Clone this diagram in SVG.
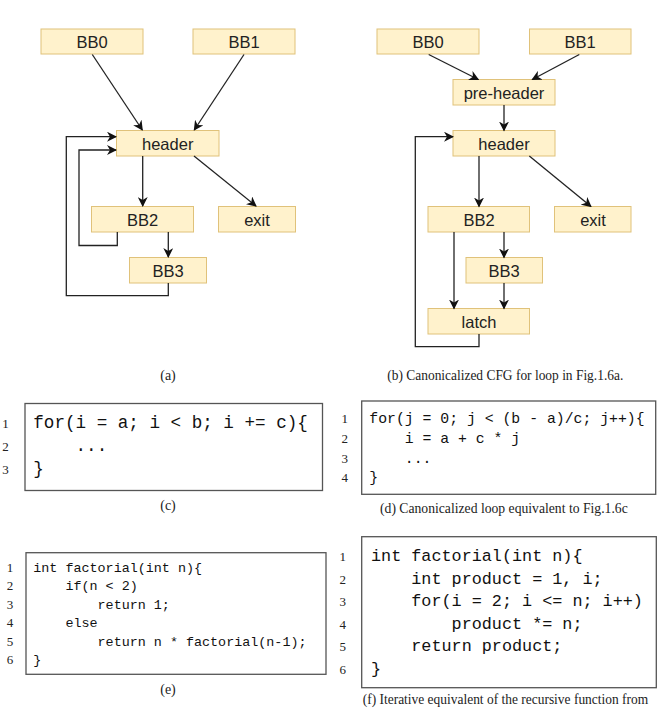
<svg xmlns="http://www.w3.org/2000/svg" width="657" height="711" viewBox="0 0 657 711">
<style>
.nd rect{fill:#fff2cc;stroke:#e0c27a;stroke-width:1}
.nd text{font-family:"Liberation Sans",Arial,sans-serif;font-size:16.5px;fill:#222;text-anchor:middle}
.cn path{fill:none;stroke:#222;stroke-width:1.3}
.box{fill:#fff;stroke:#555;stroke-width:1.3}
.code{font-family:"Liberation Mono","Courier New",monospace;fill:#111;white-space:pre}
.ln{font-family:"Liberation Serif","Times New Roman",serif;font-size:13px;fill:#222;text-anchor:middle}
.cap{font-family:"Liberation Serif","Times New Roman",serif;font-size:14px;fill:#222}
</style>
<defs>
<marker id="ar" viewBox="0 0 10 10" refX="9" refY="5" markerWidth="10" markerHeight="10" markerUnits="userSpaceOnUse" orient="auto">
<path d="M0,0 L10,5 L0,10 L3,5 z" fill="#111"/>
</marker>
</defs>
<rect width="657" height="711" fill="#fff"/>

<!-- Panel (a) -->
<g id="a-BB0" class="nd"><rect x="41" y="29" width="102" height="25"/><text x="92" y="47.5">BB0</text></g>
<g id="a-BB1" class="nd"><rect x="193" y="29" width="102" height="25"/><text x="244" y="47.5">BB1</text></g>
<g id="a-header" class="nd"><rect x="116.5" y="130.5" width="102.5" height="25.5"/><text x="167.7" y="149.5">header</text></g>
<g id="a-BB2" class="nd"><rect x="91.5" y="206.5" width="102" height="25.5"/><text x="142.5" y="225.5">BB2</text></g>
<g id="a-exit" class="nd"><rect x="218.5" y="206.5" width="77" height="25.5"/><text x="257" y="225.5">exit</text></g>
<g id="a-BB3" class="nd"><rect x="129.5" y="257.5" width="77" height="25.5"/><text x="168" y="276.5">BB3</text></g>
<g id="a-edges" class="cn">
<path d="M92.3,54.5 L142.3,130" marker-end="url(#ar)"/>
<path d="M244,54.5 L194.3,130" marker-end="url(#ar)"/>
<path d="M142.7,156 L142.7,206" marker-end="url(#ar)"/>
<path d="M194,156 L256,206" marker-end="url(#ar)"/>
<path d="M168.3,232 L168.3,257" marker-end="url(#ar)"/>
<path d="M117.3,232 L117.3,245.5 L79,245.5 L79,150 L116,150" marker-end="url(#ar)"/>
<path d="M168.3,283 L168.3,295.7 L66.3,295.7 L66.3,136.7 L116,136.7" marker-end="url(#ar)"/>
</g>

<!-- Panel (b) -->
<g id="b-BB0" class="nd"><rect x="377" y="29" width="102" height="25"/><text x="428" y="47.5">BB0</text></g>
<g id="b-BB1" class="nd"><rect x="529.5" y="29" width="101.5" height="25"/><text x="580" y="47.5">BB1</text></g>
<g id="b-preheader" class="nd"><rect x="453" y="79.5" width="102" height="25.5"/><text x="504" y="98.5">pre-header</text></g>
<g id="b-header" class="nd"><rect x="453" y="130.5" width="102" height="25.5"/><text x="504" y="149.5">header</text></g>
<g id="b-BB2" class="nd"><rect x="428" y="206.5" width="101.5" height="25.5"/><text x="479" y="225.5">BB2</text></g>
<g id="b-exit" class="nd"><rect x="554.5" y="206.5" width="76.5" height="25.5"/><text x="593" y="225.5">exit</text></g>
<g id="b-BB3" class="nd"><rect x="466" y="257.5" width="76.5" height="25.5"/><text x="504" y="276.5">BB3</text></g>
<g id="b-latch" class="nd"><rect x="428" y="308.5" width="101.5" height="25.5"/><text x="479" y="327.5">latch</text></g>
<g id="b-edges" class="cn">
<path d="M428.7,54.5 L478.3,79.5" marker-end="url(#ar)"/>
<path d="M579.3,54.5 L532.3,79.5" marker-end="url(#ar)"/>
<path d="M504,105 L504,130.5" marker-end="url(#ar)"/>
<path d="M479,156 L479,206.5" marker-end="url(#ar)"/>
<path d="M529.3,156 L591,206.5" marker-end="url(#ar)"/>
<path d="M504,232 L504,257.5" marker-end="url(#ar)"/>
<path d="M454,232 L454,308.5" marker-end="url(#ar)"/>
<path d="M504,283 L504,308.5" marker-end="url(#ar)"/>
<path d="M479,334 L479,346.7 L415.3,346.7 L415.3,136.7 L453,136.7" marker-end="url(#ar)"/>
</g>

<text class="cap" x="168" y="379.5" text-anchor="middle">(a)</text>
<text class="cap" x="387.3" y="379.5" textLength="236" lengthAdjust="spacingAndGlyphs">(b) Canonicalized CFG for loop in Fig.1.6a.</text>

<!-- (c) -->
<g id="code-c">
<rect class="box" x="25" y="403.5" width="297.5" height="87"/>
<text class="code" font-size="17.6" x="33.3" y="428">for(i = a; i &lt; b; i += c){</text>
<text class="code" font-size="17.6" x="33.3" y="451">    ...</text>
<text class="code" font-size="17.6" x="33.3" y="474">}</text>
<text class="ln" x="5.5" y="428">1</text>
<text class="ln" x="5.5" y="451">2</text>
<text class="ln" x="5.5" y="474">3</text>
</g>
<text class="cap" x="168" y="509.5" text-anchor="middle">(c)</text>

<!-- (d) -->
<g id="code-d">
<rect class="box" x="361.7" y="401" width="294" height="93.3"/>
<text class="code" font-size="14.8" x="369.3" y="423">for(j = 0; j &lt; (b - a)/c; j++){</text>
<text class="code" font-size="14.8" x="369.3" y="443">    i = a + c * j</text>
<text class="code" font-size="14.8" x="369.3" y="462.5">    ...</text>
<text class="code" font-size="14.8" x="369.3" y="482">}</text>
<text class="ln" x="344.7" y="423">1</text>
<text class="ln" x="344.7" y="443">2</text>
<text class="ln" x="344.7" y="462.5">3</text>
<text class="ln" x="344.7" y="482">4</text>
</g>
<text class="cap" x="380" y="512.5" textLength="247.7" lengthAdjust="spacingAndGlyphs">(d) Canonicalized loop equivalent to Fig.1.6c</text>

<!-- (e) -->
<g id="code-e">
<rect class="box" x="26" y="552.7" width="300" height="121.6"/>
<text class="code" font-size="13.4" x="33.3" y="571.5">int factorial(int n){</text>
<text class="code" font-size="13.4" x="33.3" y="590">    if(n &lt; 2)</text>
<text class="code" font-size="13.4" x="33.3" y="608.5">        return 1;</text>
<text class="code" font-size="13.4" x="33.3" y="627">    else</text>
<text class="code" font-size="13.4" x="33.3" y="645.5">        return n * factorial(n-1);</text>
<text class="code" font-size="13.4" x="33.3" y="664">}</text>
<text class="ln" x="10" y="571.5">1</text>
<text class="ln" x="10" y="590">2</text>
<text class="ln" x="10" y="608.5">3</text>
<text class="ln" x="10" y="627">4</text>
<text class="ln" x="10" y="645.5">5</text>
<text class="ln" x="10" y="664">6</text>
</g>
<text class="cap" x="168" y="693.5" text-anchor="middle">(e)</text>

<!-- (f) -->
<g id="code-f">
<rect class="box" x="361.7" y="536.7" width="294.6" height="151"/>
<text class="code" font-size="16.8" x="371" y="561">int factorial(int n){</text>
<text class="code" font-size="16.8" x="371" y="583.5">    int product = 1, i;</text>
<text class="code" font-size="16.8" x="371" y="606">    for(i = 2; i &lt;= n; i++)</text>
<text class="code" font-size="16.8" x="371" y="628.5">        product *= n;</text>
<text class="code" font-size="16.8" x="371" y="651">    return product;</text>
<text class="code" font-size="16.8" x="371" y="673.5">}</text>
<text class="ln" x="342.7" y="561">1</text>
<text class="ln" x="342.7" y="583.5">2</text>
<text class="ln" x="342.7" y="606">3</text>
<text class="ln" x="342.7" y="628.5">4</text>
<text class="ln" x="342.7" y="651">5</text>
<text class="ln" x="342.7" y="673.5">6</text>
</g>
<text class="cap" x="362.7" y="704" font-size="13" textLength="285.5" lengthAdjust="spacingAndGlyphs">(f) Iterative equivalent of the recursive function from</text>
</svg>
